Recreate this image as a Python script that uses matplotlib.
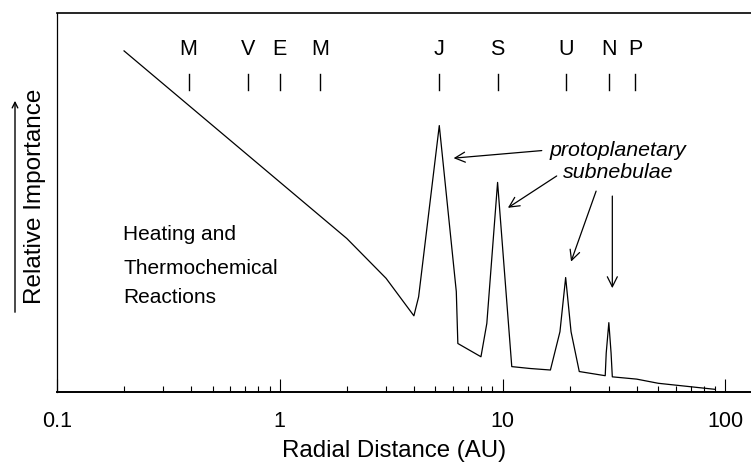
import matplotlib
matplotlib.use("Agg")
import matplotlib.pyplot as plt
from matplotlib.ticker import LogLocator, NullFormatter, FixedLocator, FixedFormatter

plt.rcParams['font.family'] = ['Liberation Sans', 'DejaVu Sans']

# curve: radial distance (AU) vs relative importance (arbitrary units)
dist = [0.2, 2.0, 3.0, 4.0, 4.2, 5.2, 6.2, 6.3, 8.0, 8.5, 9.5, 11.0, 13.3, 16.4,
        18.1, 19.2, 20.3, 22.1, 28.9, 29.2, 30.0, 30.7, 31.1, 40.0, 50.0, 90.0]
importance = [0.900, 0.405, 0.300, 0.201, 0.251, 0.703, 0.265, 0.128, 0.093, 0.181,
              0.553, 0.067, 0.062, 0.058, 0.159, 0.302, 0.159, 0.054, 0.043, 0.103,
              0.183, 0.103, 0.040, 0.034, 0.023, 0.007]

planets = ['M', 'V', 'E', 'M', 'J', 'S', 'U', 'N', 'P']
planet_au = [0.39, 0.72, 1.0, 1.52, 5.2, 9.5, 19.2, 30.1, 39.5]

fig = plt.figure(figsize=(7.51, 4.63), dpi=100)
ax = fig.add_axes([57/751, 1-392/463, 1-57/751, (392-13)/463])

ax.plot(dist, importance, color='black', lw=0.9)

# planet markers
for name, a in zip(planets, planet_au):
    ax.plot([a, a], [0.797, 0.838], color='black', lw=1.0)
    ax.text(a, 0.903, name, ha='center', va='center', fontsize=15.5)

ax.set_xscale('log')
ax.set_xlim(0.1, 130.4)
ax.set_ylim(0, 1)
ax.set_yticks([])

ax.xaxis.set_major_locator(FixedLocator([0.1, 1, 10, 100]))
ax.xaxis.set_major_formatter(FixedFormatter(['0.1', '1', '10', '100']))
ax.xaxis.set_minor_locator(LogLocator(base=10, subs=range(2, 10)))
ax.xaxis.set_minor_formatter(NullFormatter())
ax.tick_params(axis='x', which='major', direction='in', length=9.5, width=0.8,
               pad=14, labelsize=15.5)
ax.tick_params(axis='x', which='minor', direction='in', length=4.5, width=0.8)

ax.spines['right'].set_visible(False)
ax.spines['bottom'].set_linewidth(1.4)
ax.spines['top'].set_linewidth(1.2)
ax.spines['left'].set_linewidth(0.9)

fig.text(393.8/751, 1-457.3/463, 'Radial Distance (AU)', ha='center', va='baseline',
         fontsize=17.3)
fig.text(35/751, 1-196.7/463, 'Relative Importance', ha='center', va='center',
         rotation=90, fontsize=17.5)
ax.annotate('', xy=(15/751, 1-98/463), xytext=(15/751, 1-315/463),
            xycoords='figure fraction', textcoords='figure fraction',
            arrowprops=dict(arrowstyle='->', lw=1.0, color='black'))

# left annotation
for label, yy in zip(['Heating and', 'Thermochemical', 'Reactions'], [0.415, 0.327, 0.249]):
    ax.text(0.1985, yy, label, ha='left', va='center', fontsize=15)

ax.text(33.0, 0.638, 'protoplanetary', ha='center', va='center', fontsize=15.4,
        style='italic')
ax.text(33.0, 0.580, 'subnebulae', ha='center', va='center', fontsize=15.4,
        style='italic')

arrows = [((15.0, 0.637), (6.03, 0.617)),
          ((17.5, 0.570), (10.57, 0.486)),
          ((26.3, 0.530), (20.3, 0.344)),
          ((31.1, 0.517), (31.1, 0.274))]
for tail, head in arrows:
    ax.annotate('', xy=head, xytext=tail,
                arrowprops=dict(arrowstyle='->', lw=0.9, color='black',
                                shrinkA=0, shrinkB=0, mutation_scale=18))

fig.savefig('out.png', dpi=100)
